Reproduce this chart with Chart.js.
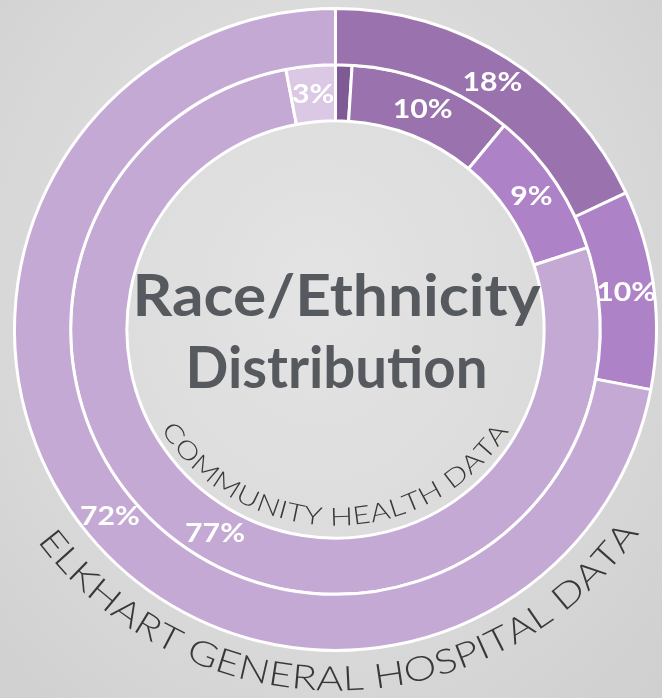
<!DOCTYPE html>
<html>
<head>
<meta charset="utf-8">
<script src="https://cdn.jsdelivr.net/npm/chart.js@4.4.1/dist/chart.umd.min.js"></script>
<style>
  html, body { margin: 0; padding: 0; }
  body {
    width: 662px; height: 698px; overflow: hidden;
    background: radial-gradient(ellipse at 48% 42%, #e4e4e4 0%, #dadada 55%, #cfcfcf 100%);
  }
  #wrap { position: relative; width: 662px; height: 698px; }
</style>
</head>
<body>
<div id="wrap"><canvas id="razaChart"></canvas></div>
<script>
// categorias sin nombre visible en la imagen
const categorias = ["Grupo 1", "Grupo 2", "Grupo 3", "Grupo 4", "Grupo 5"];
const hospitalValores = [0, 18, 10, 72, 0];     // anillo exterior
const comunidadValores = [1, 10, 9, 77, 3];     // anillo interior
const colores = ["#7f5b96", "#9a72ae", "#ad82c6", "#c4a9d5", "#dac8e5"];
const nombresSeries = ["ELKHART GENERAL HOSPITAL DATA", "COMMUNITY HEALTH DATA"];
const tituloLineas = ["Race/Ethnicity", "Distribution"];

const FUENTE = "Lato, 'Noto Sans', sans-serif";

// texto siguiendo la parte de abajo de un circulo, de izquierda a derecha
function textoCurvo(ctx, texto, cx, cy, r, angIni, angFin, font, ancho) {
  ctx.save();
  ctx.font = font;
  ctx.textAlign = "center";
  ctx.textBaseline = "alphabetic";
  const letras = [...texto];
  const anchos = letras.map(ch => ctx.measureText(ch).width * ancho);
  const total = anchos.reduce((a, b) => a + b, 0);
  const arco = (angIni - angFin) * r;
  const extra = (arco - total) / (letras.length - 1);
  let a = angIni;
  letras.forEach((ch, i) => {
    const mid = a - (anchos[i] / 2) / r;
    ctx.save();
    ctx.translate(cx + r * Math.cos(mid), cy + r * Math.sin(mid));
    ctx.rotate(mid - Math.PI / 2);
    ctx.scale(ancho, 1);
    ctx.fillText(ch, 0, 0);
    ctx.restore();
    a -= (anchos[i] + extra) / r;
  });
  ctx.restore();
}

// texto centrado estirado a un ancho dado
function textoAncho(ctx, texto, x, y, w) {
  const m = ctx.measureText(texto).width;
  ctx.save();
  ctx.translate(x, y);
  ctx.scale(w / m, 1);
  ctx.fillText(texto, 0, 0);
  ctx.restore();
}

const grados = g => g * Math.PI / 180;

const etiquetasPlugin = {
  id: "etiquetas",
  afterDatasetsDraw(chart) {
    const ctx = chart.ctx;
    ctx.save();
    ctx.fillStyle = "#ffffff";
    ctx.font = "bold 27px " + FUENTE;
    ctx.textAlign = "center";
    ctx.textBaseline = "middle";
    chart.data.datasets.forEach((ds, i) => {
      chart.getDatasetMeta(i).data.forEach((arc, j) => {
        const v = ds.data[j];
        if (v < 3) return;
        const p = arc.tooltipPosition();
        ctx.save();
        ctx.translate(p.x, p.y);
        ctx.scale(1.12, 1);
        ctx.fillText(v + "%", 0, 0);
        ctx.restore();
      });
    });
    ctx.restore();
  }
};

const textosPlugin = {
  id: "textos",
  afterDraw(chart) {
    const ctx = chart.ctx;
    const arc0 = chart.getDatasetMeta(0).data[1];
    const cx = arc0.x, cy = arc0.y;

    ctx.save();
    ctx.fillStyle = "#565a5f";
    ctx.font = "bold 57px " + FUENTE;
    ctx.textAlign = "center";
    ctx.textBaseline = "alphabetic";
    textoAncho(ctx, tituloLineas[0], cx + 1, cy - 14, 408);
    textoAncho(ctx, tituloLineas[1], cx + 1, cy + 58, 302);
    ctx.restore();

    ctx.save();
    ctx.fillStyle = "#383838";
    textoCurvo(ctx, nombresSeries[0], cx, cy - 11, 372, grados(143.3), grados(35.2), "300 34px " + FUENTE, 1.22);
    textoCurvo(ctx, nombresSeries[1], cx, cy - 11, 207, grados(147.5), grados(33), "300 25px " + FUENTE, 1.22);
    ctx.restore();
  }
};

new Chart(document.getElementById("razaChart"), {
  type: "doughnut",
  data: {
    labels: categorias,
    datasets: [
      { label: nombresSeries[0], data: hospitalValores, backgroundColor: colores, borderColor: "#ffffff", borderWidth: 3 },
      { label: nombresSeries[1], data: comunidadValores, backgroundColor: colores, borderColor: "#ffffff", borderWidth: 3 }
    ]
  },
  options: {
    responsive: true,
    maintainAspectRatio: false,
    animation: false,
    cutout: "65%",
    layout: { padding: { left: 13, right: 4, top: 7, bottom: 46 } },
    plugins: { legend: { display: false }, tooltip: { enabled: false } }
  },
  plugins: [etiquetasPlugin, textosPlugin]
});
</script>
</body>
</html>
